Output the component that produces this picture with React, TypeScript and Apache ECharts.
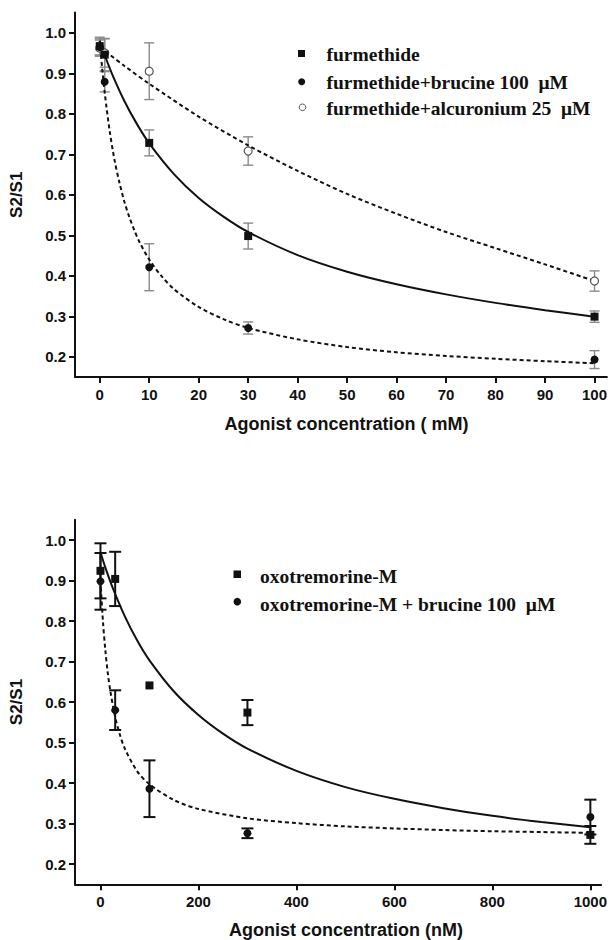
import React, { useEffect, useRef } from "react";
import * as echarts from "echarts";

// ---------- top panel (furmethide, mM) ----------
const topX = [0, 1, 10, 30, 100];
const furMean = [0.967, 0.946, 0.728, 0.498, 0.299];
const furErr = [0.022, 0.04, 0.032, 0.032, 0.014];
const furBruMean = [0.965, 0.879, 0.421, 0.271, 0.193];
const furBruErr = [0.02, 0.025, 0.058, 0.015, 0.022];
const furAlcMean = [0.962, 0.95, 0.905, 0.708, 0.387];
const furAlcErr = [0.02, 0.035, 0.07, 0.035, 0.025];

// fitted curves
const furFitX = [0, 1, 2.5, 5, 7.5, 10, 15, 20, 25, 30, 40, 50, 60, 70, 80, 90, 100];
const furFitY = [0.98, 0.945, 0.898, 0.831, 0.775, 0.727, 0.651, 0.592, 0.546, 0.508, 0.451, 0.41, 0.379, 0.354, 0.333, 0.315, 0.299];
const furBruFitX = [0, 0.5, 1, 2, 3, 4, 5, 6, 7, 8, 10, 12.5, 15, 20, 25, 30, 40, 50, 60, 70, 80, 90, 100];
const furBruFitY = [0.98, 0.911, 0.852, 0.758, 0.685, 0.629, 0.582, 0.544, 0.512, 0.484, 0.44, 0.399, 0.367, 0.323, 0.293, 0.271, 0.243, 0.224, 0.211, 0.202, 0.195, 0.189, 0.184];
const furAlcFitX = [0, 5, 10, 20, 30, 40, 50, 60, 70, 80, 90, 100];
const furAlcFitY = [0.965, 0.918, 0.874, 0.793, 0.722, 0.659, 0.602, 0.553, 0.508, 0.468, 0.428, 0.387];

// ---------- bottom panel (oxotremorine-M, nM) ----------
const botX = [0, 30, 100, 300, 1000];
const oxoMean = [0.924, 0.904, 0.641, 0.574, 0.272];
const oxoErr = [0.068, 0.067, 0, 0.031, 0.022];
const oxoBruMean = [0.898, 0.58, 0.386, 0.276, 0.316];
const oxoBruErr = [0.07, 0.049, 0.07, 0.012, 0.043];

const oxoFitX = [0, 10, 25, 50, 75, 100, 150, 200, 250, 300, 400, 500, 600, 700, 800, 900, 1000];
const oxoFitY = [0.97, 0.932, 0.882, 0.811, 0.752, 0.703, 0.626, 0.568, 0.522, 0.485, 0.43, 0.39, 0.361, 0.338, 0.319, 0.304, 0.291];
const oxoBruFitX = [0, 5, 10, 15, 20, 30, 40, 50, 75, 100, 150, 200, 300, 400, 500, 600, 700, 800, 900, 1000];
const oxoBruFitY = [0.9, 0.8, 0.727, 0.671, 0.628, 0.563, 0.518, 0.484, 0.429, 0.397, 0.358, 0.336, 0.313, 0.301, 0.293, 0.288, 0.284, 0.281, 0.279, 0.277];

// ticks
const topXTicks = [0, 10, 20, 30, 40, 50, 60, 70, 80, 90, 100];
const botXTicks = [0, 200, 400, 600, 800, 1000];
const yTicks = [0.2, 0.3, 0.4, 0.5, 0.6, 0.7, 0.8, 0.9, 1.0];

const topLegend = ["furmethide", "furmethide+brucine 100  \u03bcM", "furmethide+alcuronium 25  \u03bcM"];
const botLegend = ["oxotremorine-M", "oxotremorine-M + brucine 100  \u03bcM"];
const topXTitle = "Agonist concentration ( mM)";
const botXTitle = "Agonist concentration (nM)";
const yTitle = "S2/S1";

const INK = "#111";
const SANS = "Liberation Sans, Arial, sans-serif";
const SERIF = "Liberation Serif, Times New Roman, serif";

const pairs = (xs: number[], ys: number[]) => xs.map((x, i) => [x, ys[i]]);
const errData = (xs: number[], m: number[], e: number[]) =>
  xs.map((x, i) => [x, m[i] - e[i], m[i] + e[i], e[i]]).filter((d) => d[3] > 0);

function errSeries(idx: number, data: number[][], color: string, lw: number, cap: number) {
  return {
    type: "custom",
    xAxisIndex: idx,
    yAxisIndex: idx,
    data,
    z: 1,
    silent: true,
    encode: { x: 0, y: [1, 2] },
    renderItem: (_p: any, api: any) => {
      const x = api.value(0);
      const lo = api.coord([x, api.value(1)]);
      const hi = api.coord([x, api.value(2)]);
      const st = { stroke: color, lineWidth: lw, fill: null };
      return {
        type: "group",
        children: [
          { type: "line", shape: { x1: lo[0], y1: lo[1], x2: hi[0], y2: hi[1] }, style: st },
          { type: "line", shape: { x1: lo[0] - cap, y1: lo[1], x2: lo[0] + cap, y2: lo[1] }, style: st },
          { type: "line", shape: { x1: hi[0] - cap, y1: hi[1], x2: hi[0] + cap, y2: hi[1] }, style: st },
        ],
      };
    },
  };
}

function fitSeries(idx: number, xs: number[], ys: number[], dashed: boolean) {
  return {
    type: "line",
    xAxisIndex: idx,
    yAxisIndex: idx,
    data: pairs(xs, ys),
    showSymbol: false,
    symbol: "none",
    smooth: 0.3,
    z: 2,
    silent: true,
    lineStyle: { color: INK, width: 2, type: dashed ? [4, 3] : "solid" },
  };
}

function scatter(idx: number, xs: number[], ys: number[], symbol: string, fill: string, stroke: string, z: number) {
  return {
    type: "scatter",
    xAxisIndex: idx,
    yAxisIndex: idx,
    data: pairs(xs, ys),
    symbol,
    symbolSize: 8,
    z,
    silent: true,
    itemStyle: { color: fill, borderColor: stroke, borderWidth: fill === "#fff" ? 1.2 : 0, opacity: 1 },
  };
}

function xAxis(idx: number, min: number, max: number, ticks: number[]) {
  return {
    gridIndex: idx,
    type: "value",
    min,
    max,
    axisLine: { show: true, onZero: false, lineStyle: { color: INK, width: 2 } },
    axisTick: { show: true, length: 6, customValues: ticks, lineStyle: { color: INK, width: 2 } },
    axisLabel: {
      customValues: ticks,
      margin: 10,
      fontSize: 15,
      fontWeight: "bold",
      fontFamily: SANS,
      color: INK,
      formatter: (v: number) => String(v),
    },
    splitLine: { show: false },
  };
}

function yAxis(idx: number) {
  return {
    gridIndex: idx,
    type: "value",
    min: 0.15,
    max: 1.05,
    name: yTitle,
    nameLocation: "middle",
    nameRotate: 90,
    nameGap: 50,
    nameTextStyle: { fontSize: 17, fontWeight: "bold", fontFamily: SANS, color: INK },
    axisLine: { show: true, onZero: false, lineStyle: { color: INK, width: 2 } },
    axisTick: { show: true, length: 6, customValues: yTicks, lineStyle: { color: INK, width: 2 } },
    axisLabel: {
      customValues: yTicks,
      margin: 9,
      fontSize: 15,
      fontWeight: "bold",
      fontFamily: SANS,
      color: INK,
      formatter: (v: number) => v.toFixed(1),
    },
    splitLine: { show: false },
  };
}

function legendText(x: number, y: number, text: string) {
  return {
    type: "text",
    x,
    y,
    style: { text, fill: INK, font: `bold 19.5px ${SERIF}`, verticalAlign: "middle", align: "left" },
  };
}

export default function App() {
  const ref = useRef<HTMLDivElement>(null);
  useEffect(() => {
    if (!ref.current) return;
    const chart = echarts.init(ref.current, undefined, { renderer: "svg" });
    const option: any = {
      animation: false,
      backgroundColor: "#fff",
      grid: [
        { left: 73, top: 12.5, width: 535.35, height: 364.5 },
        { left: 73, top: 519.8, width: 534.9, height: 364.5 },
      ],
      xAxis: [xAxis(0, -5, 102.5, topXTicks), xAxis(1, -52, 1022, botXTicks)],
      yAxis: [yAxis(0), yAxis(1)],
      series: [
        // top panel
        errSeries(0, errData(topX, furAlcMean, furAlcErr), "#8a8a8a", 1.4, 5),
        errSeries(0, errData(topX, furBruMean, furBruErr), "#8a8a8a", 1.4, 5),
        errSeries(0, errData(topX, furMean, furErr), "#8a8a8a", 1.4, 5),
        fitSeries(0, furAlcFitX, furAlcFitY, true),
        fitSeries(0, furBruFitX, furBruFitY, true),
        fitSeries(0, furFitX, furFitY, false),
        scatter(0, topX, furAlcMean, "circle", "#fff", "#555", 3),
        scatter(0, topX, furBruMean, "circle", INK, INK, 4),
        scatter(0, topX, furMean, "rect", INK, INK, 5),
        // bottom panel
        errSeries(1, errData(botX, oxoBruMean, oxoBruErr), INK, 2, 6),
        errSeries(1, errData(botX, oxoMean, oxoErr), INK, 2, 6),
        fitSeries(1, oxoBruFitX, oxoBruFitY, true),
        fitSeries(1, oxoFitX, oxoFitY, false),
        scatter(1, botX, oxoBruMean, "circle", INK, INK, 4),
        scatter(1, botX, oxoMean, "rect", INK, INK, 5),
      ],
      graphic: [
        // top legend
        { type: "rect", shape: { x: 298, y: 50, width: 7, height: 7 }, style: { fill: INK } },
        { type: "circle", shape: { cx: 301.7, cy: 81.7, r: 3.5 }, style: { fill: INK } },
        { type: "circle", shape: { cx: 302.5, cy: 107.3, r: 3.3 }, style: { fill: "#fff", stroke: "#555", lineWidth: 1 } },
        legendText(326.5, 54, topLegend[0]),
        legendText(326.5, 82, topLegend[1]),
        legendText(326.5, 108, topLegend[2]),
        // bottom legend
        { type: "rect", shape: { x: 233.5, y: 570.5, width: 7.5, height: 7.5 }, style: { fill: INK } },
        { type: "circle", shape: { cx: 237.3, cy: 601.7, r: 3.8 }, style: { fill: INK } },
        legendText(260, 576, botLegend[0]),
        legendText(260, 604, botLegend[1]),
        // x-axis titles
        {
          type: "text",
          x: 346.5,
          y: 424,
          style: { text: topXTitle, fill: INK, font: `bold 18px ${SANS}`, align: "center", verticalAlign: "middle" },
        },
        {
          type: "text",
          x: 346,
          y: 930,
          style: { text: botXTitle, fill: INK, font: `bold 18px ${SANS}`, align: "center", verticalAlign: "middle" },
        },
      ],
    };
    chart.setOption(option);
    return () => chart.dispose();
  }, []);
  return (
    <div
      ref={ref}
      style={{ position: "absolute", left: 0, top: 0, width: 610, height: 940, background: "#fff" }}
    />
  );
}
